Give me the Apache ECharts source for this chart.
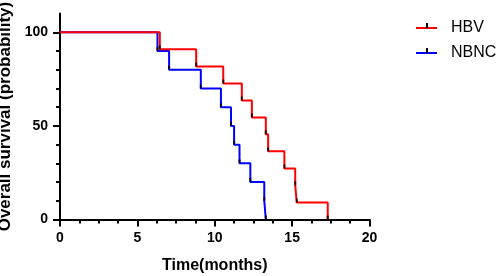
<!DOCTYPE html>
<html>
<head>
<meta charset="utf-8">
<script src="https://cdn.jsdelivr.net/npm/echarts@6/dist/echarts.min.js"></script>
<style>
  html, body { margin: 0; padding: 0; background: #fff; }
  #chart { width: 498px; height: 276px; }
</style>
</head>
<body>
<div id="chart"></div>
<script>
// event times (months)
var hbvTimes = [6.45, 8.8, 10.55, 11.75, 12.4, 13.3, 13.45, 14.5, 15.2, 15.3, 17.3]
var hbvSurv = [90.9, 81.8, 72.7, 63.6, 54.5, 45.5, 36.4, 27.3, 18.2, 9.1, 0]
var nbncTimes = [6.3, 7.05, 9.1, 10.4, 11.05, 11.25, 11.6, 12.3, 13.2, 13.3]
var nbncSurv = [90, 80, 70, 60, 50, 40, 30, 20, 10, 0]

var yMajor = [0, 50, 100]
var yMinor = [10, 20, 30, 40, 60, 70, 80, 90]

function steps (times, surv) {
  var pts = [[0, 100]]
  for (var i = 0; i < times.length; i++) {
    pts.push([times[i], surv[i]])
  }
  return pts
}

function marks (times, surv) {
  return times.map(function (t, i) { return [t, surv[i]] })
}

var chart = echarts.init(document.getElementById('chart'))

var axisFont = {
  fontFamily: 'Liberation Sans',
  fontWeight: 'bold',
  fontSize: 14,
  color: '#000'
}
var blackLine = { color: '#000', width: 2 }
var gridBox = {
  left: 60,
  right: 128.5,
  top: 13.6,
  bottom: 56.5,
  containLabel: false,
  outerBoundsMode: 'none'
}

chart.setOption({
  animation: false,
  // second grid only carries the short y ticks
  grid: [Object.assign({}, gridBox), Object.assign({}, gridBox)],
  legend: {
    orient: 'vertical',
    left: 416,
    top: 20,
    padding: 0,
    itemWidth: 21,
    itemHeight: 2,
    itemGap: 9,
    icon: 'rect',
    data: ['HBV', 'NBNC'],
    textStyle: {
      fontFamily: 'Liberation Sans',
      fontSize: 16,
      color: '#000',
      padding: [0, 0, 0, 9]
    }
  },
  graphic: [
    { type: 'rect', shape: { x: 426, y: 23, width: 2, height: 5 }, style: { fill: '#000' }, z: 100 },
    { type: 'rect', shape: { x: 426, y: 48, width: 2, height: 5 }, style: { fill: '#000' }, z: 100 }
  ],
  xAxis: [
    {
      type: 'value',
      min: 0,
      max: 20,
      interval: 5,
      name: 'Time(months)',
      nameLocation: 'middle',
      nameGap: 38,
      nameTextStyle: {
        fontFamily: 'Liberation Sans',
        fontWeight: 'bold',
        fontSize: 16,
        color: '#000'
      },
      axisLine: { lineStyle: blackLine },
      axisTick: { length: 7, lineStyle: blackLine },
      minorTick: { show: true, splitNumber: 4, length: 4, lineStyle: blackLine },
      axisLabel: Object.assign({ margin: 12 }, axisFont),
      splitLine: { show: false }
    },
    {
      type: 'value',
      gridIndex: 1,
      min: 0,
      max: 20,
      show: false
    }
  ],
  yAxis: [
    {
      type: 'value',
      min: 0,
      max: 110,
      name: 'Overall survival (probability)',
      nameLocation: 'middle',
      nameGap: 40,
      nameTextStyle: {
        fontFamily: 'Liberation Sans',
        fontWeight: 'bold',
        fontSize: 17,
        color: '#000'
      },
      axisLine: { show: true, lineStyle: blackLine },
      axisTick: { show: true, customValues: yMajor, length: 7, lineStyle: blackLine },
      axisLabel: Object.assign({ margin: 12, customValues: yMajor }, axisFont),
      splitLine: { show: false }
    },
    {
      type: 'value',
      gridIndex: 1,
      min: 0,
      max: 110,
      axisLine: { show: false },
      axisTick: { show: true, customValues: yMinor, length: 4, lineStyle: blackLine },
      axisLabel: { show: false, customValues: yMinor },
      splitLine: { show: false }
    }
  ],
  series: [
    {
      name: 'HBV',
      type: 'line',
      step: 'end',
      symbol: 'none',
      data: steps(hbvTimes, hbvSurv),
      lineStyle: { color: '#ff0000', width: 2 },
      itemStyle: { color: '#ff0000' },
      z: 3
    },
    {
      name: 'NBNC',
      type: 'line',
      step: 'end',
      symbol: 'none',
      data: steps(nbncTimes, nbncSurv),
      lineStyle: { color: '#0000ff', width: 2 },
      itemStyle: { color: '#0000ff' },
      z: 2
    },
    {
      type: 'scatter',
      symbol: 'rect',
      symbolSize: [2, 4],
      symbolOffset: [0, -2],
      itemStyle: { color: '#000' },
      data: marks(hbvTimes, hbvSurv).concat(marks(nbncTimes, nbncSurv)),
      z: 4
    }
  ]
})
</script>
</body>
</html>
